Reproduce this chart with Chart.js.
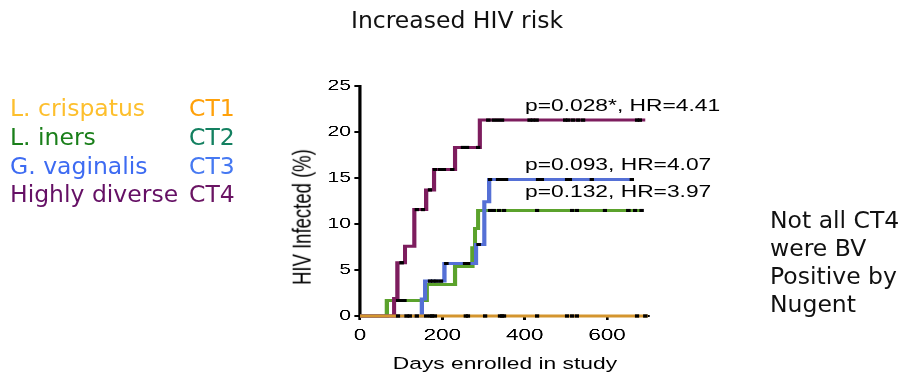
<!DOCTYPE html>
<html>
<head>
<meta charset="utf-8">
<script src="https://cdn.jsdelivr.net/npm/chart.js@4/dist/chart.umd.min.js"></script>
<style>
  html, body { margin: 0; padding: 0; background: #fff; }
  body { width: 903px; height: 378px; position: relative; overflow: hidden; }
  .dv { position: absolute; font-family: "DejaVu Sans", Verdana, sans-serif; font-size: 23.5px; white-space: nowrap; }
  #title { left: 0; width: 914px; text-align: center; top: 9px; line-height: 1; color: #111; }
  #legend { left: 10px; top: 94.3px; line-height: 28.7px; }
  #legend2 { left: 189px; top: 94.3px; line-height: 28.7px; }
  #note { left: 770px; top: 206px; line-height: 28px; color: #111; }
  #wrap { position: absolute; left: 0; top: 0; width: 645px; height: 378px; transform: scaleX(1.4); transform-origin: 0 0; }
  #wrap canvas { position: absolute; left: 0; top: 0; }
  .pr { position: absolute; font-family: "Liberation Sans", Arial, Helvetica, sans-serif; white-space: nowrap; line-height: 1; color: #000; }
  .pv { font-size: 16.3px; left: 375px; }
  #xt { font-size: 16.3px; left: 360.7px; top: 355px; transform: translateX(-50%); }
  #yt { font-size: 18.5px; left: 216px; top: 217px; transform: translate(-50%, -50%) rotate(-90deg); }
</style>
</head>
<body>
<div id="wrap">
  <canvas id="c" width="645" height="378"></canvas>
  <div id="xt" class="pr"></div>
  <div id="yt" class="pr"></div>
  <div id="pv0" class="pr pv" style="top:96.5px"></div>
  <div id="pv1" class="pr pv" style="top:155.5px"></div>
  <div id="pv2" class="pr pv" style="top:182.5px"></div>
</div>
<div id="title" class="dv"></div>
<div id="legend" class="dv"></div>
<div id="legend2" class="dv"></div>
<div id="note" class="dv"></div>
<script>
// ---- data ----
const chartTitle = 'Increased HIV risk';
const taxa = ['L. crispatus', 'L. iners', 'G. vaginalis', 'Highly diverse'];
const ctLabels = ['CT1', 'CT2', 'CT3', 'CT4'];
const noteLines = ['Not all CT4', 'were BV', 'Positive by', 'Nugent'];
const pLabels = ['p=0.028*, HR=4.41', 'p=0.093, HR=4.07', 'p=0.132, HR=3.97'];
const xTitle = 'Days enrolled in study';
const yTitle = 'HIV Infected (%)';
const xTicks = [0, 200, 400, 600];
const yTicks = [0, 5, 10, 15, 20, 25];

const ct1Days = [0, 700];
const ct1Pct  = [0, 0];
const ct2Days = [0, 65, 162, 231, 273, 279, 287, 687];
const ct2Pct  = [0, 1.67, 3.4, 5.4, 7.4, 9.5, 11.5, 11.5];
const ct3Days = [0, 150, 158, 205, 282, 302, 314, 660];
const ct3Pct  = [0, 1.85, 3.8, 5.7, 7.8, 12.4, 14.85, 14.85];
const ct4Days = [0, 83, 91, 109, 132, 161, 180, 231, 291, 693];
const ct4Pct  = [0, 1.92, 5.77, 7.6, 11.54, 13.7, 15.9, 18.35, 21.3, 21.3];

const ct1Censor = [92, 113, 121, 138, 161, 171, 175, 182, 257, 262, 304, 340, 345, 350, 430, 503, 515, 527, 673, 693];
const ct2Censor = [92, 101, 108, 316, 325, 338, 350, 430, 515, 527, 595, 652, 668, 684];
const ct3Censor = [170, 178, 186, 197, 210, 255, 263, 288, 316, 335, 345, 355, 432, 442, 503, 510, 563, 660];
const ct4Censor = [101, 138, 153, 170, 182, 194, 204, 224, 250, 260, 287, 312, 325, 335, 345, 412, 420, 429, 498, 506, 518, 530, 542, 673, 680];

// ---- text ----
const taxaColors = ['#FDBF2D', '#1A7F1A', '#3D6BF2', '#651065'];
const ctColors = ['#FFA10A', '#138060', '#4679F2', '#6A1463'];
document.getElementById('title').textContent = chartTitle;
document.getElementById('legend').innerHTML = taxa.map((t, i) => '<div style="color:' + taxaColors[i] + '">' + t + '</div>').join('');
document.getElementById('legend2').innerHTML = ctLabels.map((t, i) => '<div style="color:' + ctColors[i] + '">' + t + '</div>').join('');
document.getElementById('note').innerHTML = noteLines.map(t => '<div>' + t + '</div>').join('');
document.getElementById('xt').textContent = xTitle;
document.getElementById('yt').textContent = yTitle;
pLabels.forEach((t, i) => { document.getElementById('pv' + i).textContent = t; });

// ---- chart ----
function pts(days, pct) { return days.map((d, i) => ({ x: d, y: pct[i] })); }
function stepAt(days, pct, d) { let v = pct[0]; for (let i = 0; i < days.length; i++) { if (days[i] <= d) v = pct[i]; } return v; }
function cens(list, days, pct) { return list.map(d => ({ x: d, y: stepAt(days, pct, d) })); }

const lineBase = { type: 'line', stepped: 'before', borderWidth: 3, pointRadius: 0, fill: false, clip: false, order: 2 };
const censBase = { type: 'scatter', pointStyle: 'rect', pointRadius: 2.2, backgroundColor: '#000', borderColor: '#000', borderWidth: 0, clip: false, order: 0 };

new Chart(document.getElementById('c'), {
  data: {
    datasets: [
      Object.assign({}, lineBase, { label: 'CT4', data: pts(ct4Days, ct4Pct), borderColor: '#7D1D5E' }),
      Object.assign({}, lineBase, { label: 'CT3', data: pts(ct3Days, ct3Pct), borderColor: '#5570D6' }),
      Object.assign({}, lineBase, { label: 'CT2', data: pts(ct2Days, ct2Pct), borderColor: '#5BA22C' }),
      Object.assign({}, lineBase, { label: 'CT1', data: pts(ct1Days, ct1Pct), borderColor: '#D4952E', order: 1 }),
      Object.assign({}, censBase, { label: 'c4', data: cens(ct4Censor, ct4Days, ct4Pct) }),
      Object.assign({}, censBase, { label: 'c3', data: cens(ct3Censor, ct3Days, ct3Pct) }),
      Object.assign({}, censBase, { label: 'c2', data: cens(ct2Censor, ct2Days, ct2Pct) }),
      Object.assign({}, censBase, { label: 'c1', data: cens(ct1Censor, ct1Days, ct1Pct) })
    ]
  },
  options: {
    responsive: false,
    devicePixelRatio: 3,
    animation: false,
    layout: { padding: { left: 150, right: 182, top: 86, bottom: 0 } },
    plugins: { legend: { display: false }, tooltip: { enabled: false } },
    scales: {
      x: {
        type: 'linear', min: 0, max: 700,
        afterBuildTicks: s => { s.ticks = xTicks.map(v => ({ value: v })); },
        afterFit: s => { s.height = 62; },
        border: { display: true, color: '#000', width: 2.2 },
        grid: { display: true, drawOnChartArea: false, drawTicks: true, tickLength: 4, color: '#000', lineWidth: 2 },
        ticks: { color: '#000', padding: 6, maxRotation: 0, font: { family: 'Liberation Sans, Arial, sans-serif', size: 16 } }
      },
      y: {
        type: 'linear', min: 0, max: 25,
        afterBuildTicks: s => { s.ticks = yTicks.map(v => ({ value: v })); },
        afterFit: s => { s.width = 107.14; },
        border: { display: true, color: '#000', width: 2.2 },
        grid: { display: true, drawOnChartArea: false, drawTicks: true, tickLength: 4, color: '#000', lineWidth: 2 },
        ticks: { color: '#000', padding: 2.5, font: { family: 'Liberation Sans, Arial, sans-serif', size: 15 } }
      }
    }
  }
});
</script>
</body>
</html>
